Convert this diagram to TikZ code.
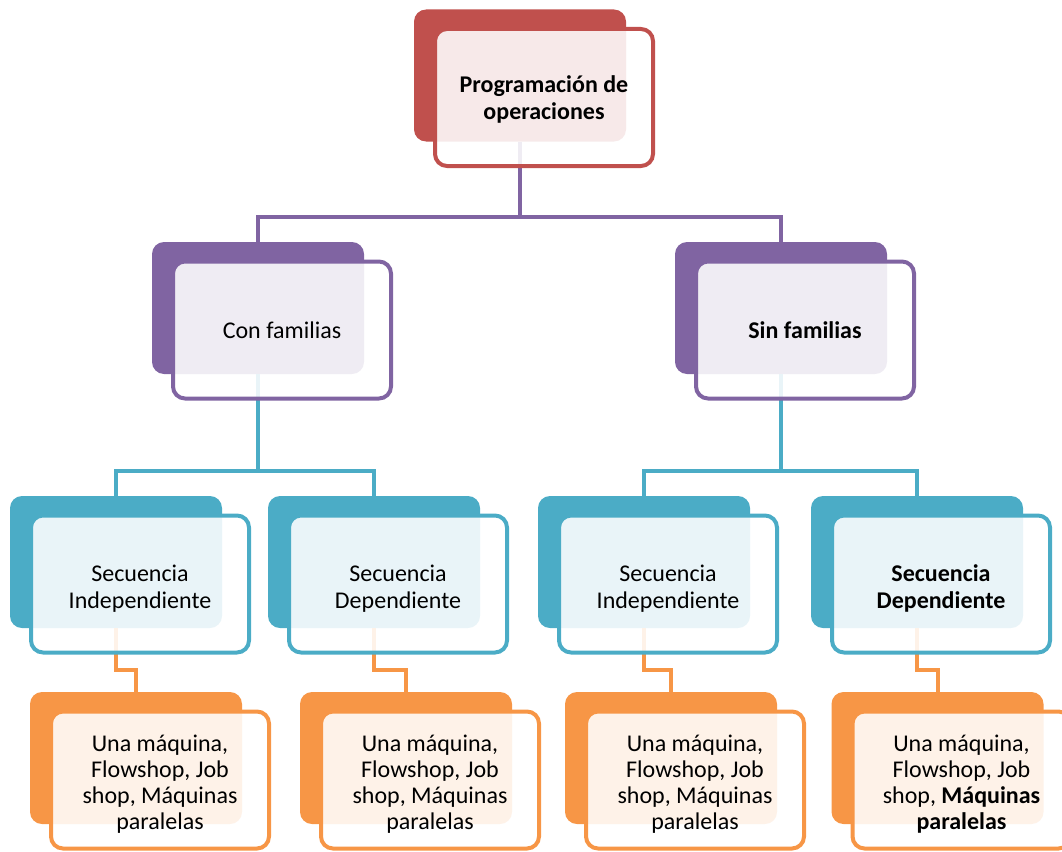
\documentclass[tikz,border=0pt]{standalone}
\usepackage{fontspec}
\setmainfont{Carlito}
\definecolor{rojo}{HTML}{C0504D}
\definecolor{morado}{HTML}{8064A2}
\definecolor{turquesa}{HTML}{4BACC6}
\definecolor{naranja}{HTML}{F79646}
\begin{document}
\begin{tikzpicture}[x=1pt,y=-1pt,
  fondo/.style={fill=#1, rounded corners=12pt, minimum width=212pt, minimum height=132pt, inner sep=0pt},
  caja/.style={draw=#1, line width=4pt, fill=white, fill opacity=0.88, text opacity=1, rounded corners=12pt,
    minimum width=218pt, minimum height=137pt, inner sep=0pt, align=center, font=\fontsize{24}{27}\selectfont},
  negrita/.style={font=\fontsize{24}{27}\selectfont\bfseries},
  cuatro/.style={font=\fontsize{24}{26}\selectfont, text height=103pt},
  linea/.style={draw=#1, line width=4pt}]
\useasboundingbox (0,0) rectangle (1062,851);
% fondos
\node[fondo=rojo] (prog) at (520,75.5) {};
\node[fondo=morado] (con) at (258,308) {};
\node[fondo=morado] (sin) at (781,308) {};
\foreach \n/\x in {ci/116, cd/374, si/644, sd/917} \node[fondo=turquesa] (\n) at (\x,562) {};
\foreach \n/\x in {m1/136, m2/406, m3/671, m4/937.5} \node[fondo=naranja] (\n) at (\x,758) {};
% conectores
\draw[linea=morado] (prog.south) -- ++(0,75) -| (con.north);
\draw[linea=morado] (prog.south) -- ++(0,75) -| (sin.north);
\draw[linea=turquesa] (con.south) -- ++(0,97) -| (ci.north);
\draw[linea=turquesa] (con.south) -- ++(0,97) -| (cd.north);
\draw[linea=turquesa] (sin.south) -- ++(0,97) -| (si.north);
\draw[linea=turquesa] (sin.south) -- ++(0,97) -| (sd.north);
\foreach \a/\b in {ci/m1, cd/m2, si/m3, sd/m4} \draw[linea=naranja] (\a.south) -- ++(0,42) -| (\b.north);
% cajas
\node[caja=rojo, negrita, text height=48.5pt] (prog-t) at ([shift={(24,22)}]prog.center) {Programación de\\operaciones};
\node[caja=morado] (con-t) at ([shift={(24,22)}]con.center) {Con familias};
\node[caja=morado, negrita] (sin-t) at ([shift={(24,22)}]sin.center) {Sin familias};
\node[caja=turquesa, text height=53.5pt] (ci-t) at ([shift={(24,22)}]ci.center) {Secuencia\\Independiente};
\node[caja=turquesa, text height=53.5pt] (cd-t) at ([shift={(24,22)}]cd.center) {Secuencia\\Dependiente};
\node[caja=turquesa, text height=53.5pt] (si-t) at ([shift={(24,22)}]si.center) {Secuencia\\Independiente};
\node[caja=turquesa, negrita, text height=53.5pt] (sd-t) at ([shift={(24,22)}]sd.center) {Secuencia\\Dependiente};
\foreach \n in {m1, m2, m3}
  \node[caja=naranja, cuatro] (\n-t) at ([shift={(24,22)}]\n.center) {Una máquina,\\Flowshop, Job\\shop, Máquinas\\paralelas};
\node[caja=naranja, cuatro] (m4-t) at ([shift={(24,22)}]m4.center) {Una máquina,\\Flowshop, Job\\shop, \textbf{Máquinas}\\\textbf{paralelas}};
\end{tikzpicture}
\end{document}
